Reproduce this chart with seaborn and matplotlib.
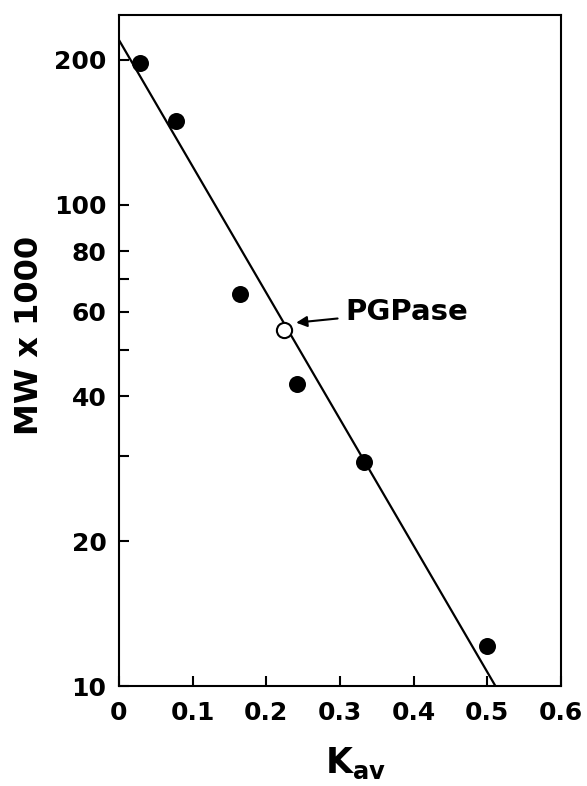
import numpy as np
import matplotlib
matplotlib.use("Agg")
import matplotlib.pyplot as plt
from matplotlib.ticker import FixedLocator, NullFormatter, FixedFormatter
import pandas as pd
import seaborn as sns

sns.set_theme(style="ticks")
plt.rcParams.update({
    'font.family': ['DejaVu Sans'],
    'font.weight': 'bold',
    'text.color': 'black',
    'mathtext.fontset': 'custom',
    'mathtext.rm': 'DejaVu Sans:bold',
    'mathtext.it': 'DejaVu Sans:bold',
    'mathtext.bf': 'DejaVu Sans:bold',
    'axes.edgecolor': 'black',
    'axes.linewidth': 1.5,
})

# standards (filled)
kav_std = [0.029, 0.078, 0.164, 0.241, 0.332, 0.500]
mw_std = [197, 149, 65.3, 42.5, 29.2, 12.1]

# unknown (open circle)
kav_pgpase = [0.224]
mw_pgpase = [55.0]

# fitted calibration line, end points
kav_fit = [0.0, 0.511]
mw_fit = [220, 10]

xticks = [0, 0.1, 0.2, 0.3, 0.4, 0.5, 0.6]
xtick_labels = ['0', '0.1', '0.2', '0.3', '0.4', '0.5', '0.6']
yticks_major = [10, 20, 40, 60, 80, 100, 200]
ytick_labels = ['10', '20', '40', '60', '80', '100', '200']
yticks_minor = [30, 50, 70]

std = pd.DataFrame({'kav': kav_std, 'mw': mw_std})
unk = pd.DataFrame({'kav': kav_pgpase, 'mw': mw_pgpase})
fit = pd.DataFrame({'kav': kav_fit, 'mw': mw_fit})

fig = plt.figure(figsize=(5.87, 7.86), dpi=100)
ax = fig.add_axes([0.2027, 0.1272, 0.753, 0.8537])

ax.set_yscale('log')
sns.lineplot(data=fit, x='kav', y='mw', color='black', linewidth=1.6, ax=ax, zorder=2)
sns.scatterplot(data=std, x='kav', y='mw', color='black', s=150, edgecolor='black',
                linewidth=0, ax=ax, zorder=3)
sns.scatterplot(data=unk, x='kav', y='mw', facecolor='white', edgecolor='black',
                s=120, linewidth=1.5, ax=ax, zorder=4)

ax.set_xlim(0, 0.6)
ax.set_ylim(10, 248)

ax.xaxis.set_major_locator(FixedLocator(xticks))
ax.xaxis.set_major_formatter(FixedFormatter(xtick_labels))
ax.yaxis.set_major_locator(FixedLocator(yticks_major))
ax.yaxis.set_major_formatter(FixedFormatter(ytick_labels))
ax.yaxis.set_minor_locator(FixedLocator(yticks_minor))
ax.yaxis.set_minor_formatter(NullFormatter())
ax.xaxis.set_minor_locator(FixedLocator([]))

ax.tick_params(axis='both', which='both', direction='in', length=7, width=1.5,
               colors='black', labelsize=18)
ax.tick_params(axis='y', which='both', pad=9)
ax.tick_params(axis='x', which='both', pad=11)
for lab in ax.get_xticklabels() + ax.get_yticklabels():
    lab.set_fontweight('bold')

for sp in ax.spines.values():
    sp.set_visible(True)
    sp.set_color('black')
    sp.set_linewidth(1.5)

ax.set_ylabel('MW x 1000', fontsize=23, fontweight='bold', color='black')
ax.yaxis.set_label_coords(-0.167, 0.522)
ax.set_xlabel(r'$\mathrm{K_{av}}$', fontsize=25, color='black')
ax.xaxis.set_label_coords(0.536, -0.089)

ax.annotate('PGPase', xy=(0.2405, 56.9), xytext=(0.3068, 60),
            fontsize=21, fontweight='bold', color='black', ha='left', va='center',
            arrowprops=dict(arrowstyle='-|>', color='black', lw=1.5,
                            mutation_scale=16, shrinkA=3, shrinkB=0))

fig.savefig('out.png', dpi=100, facecolor='white')
